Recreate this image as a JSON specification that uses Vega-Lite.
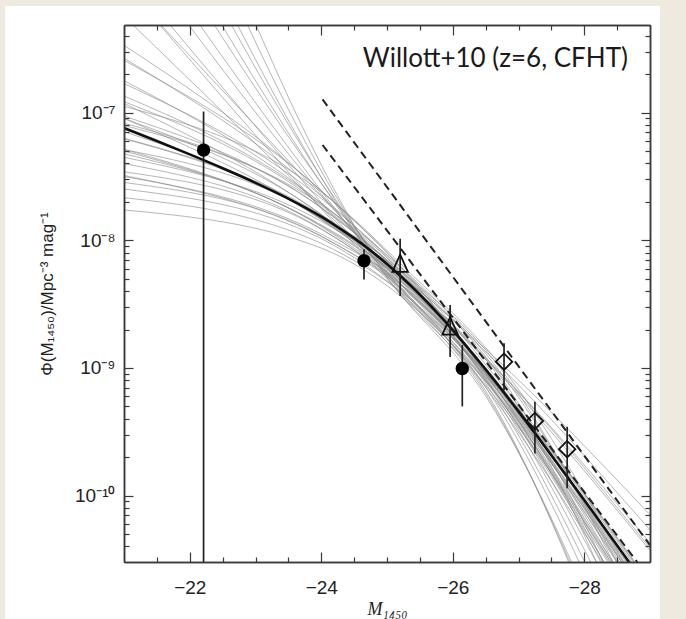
{
  "$schema": "https://vega.github.io/schema/vega-lite/v6.json",
  "width": 526,
  "height": 537,
  "autosize": {"type": "none"},
  "padding": {"left": 124, "top": 25, "right": 36, "bottom": 57},
  "background": "#EEEAE0",
  "config": {
    "view": {"stroke": null},
    "axis": {"domainColor": "#3a3a3a", "domainWidth": 1.5, "tickColor": "#3a3a3a", "tickWidth": 1.2, "grid": false, "labelOverlap": false, "labelFlush": false}
  },
  "datasets": {
    "gray": [
      {"id":"A1","M":-21,"p":1.73e-8},{"id":"A1","M":-24,"p":8.69e-9},{"id":"A1","M":-25.4,"p":3.02e-9},{"id":"A1","M":-26.6,"p":6.82e-10},{"id":"A1","M":-29,"p":1.43e-11},
      {"id":"A2","M":-21,"p":2.16e-8},{"id":"A2","M":-24,"p":9.44e-9},{"id":"A2","M":-25.4,"p":3.31e-9},{"id":"A2","M":-26.6,"p":8.0e-10},{"id":"A2","M":-29,"p":2.08e-11},
      {"id":"A3","M":-21,"p":2.52e-8},{"id":"A3","M":-24,"p":1.03e-8},{"id":"A3","M":-25.4,"p":3.16e-9},{"id":"A3","M":-26.6,"p":6.31e-10},{"id":"A3","M":-29,"p":1.0e-11},
      {"id":"A4","M":-21,"p":2.84e-8},{"id":"A4","M":-24,"p":1.08e-8},{"id":"A4","M":-25.4,"p":3.55e-9},{"id":"A4","M":-26.6,"p":8.11e-10},{"id":"A4","M":-29,"p":1.89e-11},
      {"id":"A5","M":-21,"p":3.44e-8},{"id":"A5","M":-24,"p":1.22e-8},{"id":"A5","M":-25.4,"p":3.39e-9},{"id":"A5","M":-26.6,"p":6.03e-10},{"id":"A5","M":-29,"p":7.24e-12},
      {"id":"A6","M":-21,"p":3.22e-8},{"id":"A6","M":-24,"p":1.07e-8},{"id":"A6","M":-25.4,"p":3.80e-9},{"id":"A6","M":-26.6,"p":1.05e-9},{"id":"A6","M":-29,"p":4.25e-11},
      {"id":"A7","M":-21,"p":3.99e-8},{"id":"A7","M":-24,"p":1.23e-8},{"id":"A7","M":-25.4,"p":3.63e-9},{"id":"A7","M":-26.6,"p":7.48e-10},{"id":"A7","M":-29,"p":1.40e-11},
      {"id":"A8","M":-21,"p":5.14e-8},{"id":"A8","M":-24,"p":1.48e-8},{"id":"A8","M":-25.4,"p":3.98e-9},{"id":"A8","M":-26.6,"p":7.21e-10},{"id":"A8","M":-29,"p":9.68e-12},
      {"id":"A9","M":-21,"p":4.76e-8},{"id":"A9","M":-24,"p":1.28e-8},{"id":"A9","M":-25.4,"p":3.72e-9},{"id":"A9","M":-26.6,"p":7.87e-10},{"id":"A9","M":-29,"p":1.64e-11},
      {"id":"A10","M":-21,"p":5.16e-8},{"id":"A10","M":-24,"p":1.30e-8},{"id":"A10","M":-25.4,"p":4.17e-9},{"id":"A10","M":-26.6,"p":1.07e-9},{"id":"A10","M":-29,"p":3.89e-11},
      {"id":"A11","M":-21,"p":6.24e-8},{"id":"A11","M":-24,"p":1.46e-8},{"id":"A11","M":-25.4,"p":3.89e-9},{"id":"A11","M":-26.6,"p":7.48e-10},{"id":"A11","M":-29,"p":1.25e-11},
      {"id":"A12","M":-21,"p":8.26e-8},{"id":"A12","M":-24,"p":1.81e-8},{"id":"A12","M":-25.4,"p":4.27e-9},{"id":"A12","M":-26.6,"p":6.92e-10},{"id":"A12","M":-29,"p":7.45e-12},
      {"id":"A13","M":-21,"p":7.10e-8},{"id":"A13","M":-24,"p":1.45e-8},{"id":"A13","M":-25.4,"p":3.98e-9},{"id":"A13","M":-26.6,"p":8.49e-10},{"id":"A13","M":-29,"p":1.98e-11},
      {"id":"A14","M":-21,"p":9.40e-8},{"id":"A14","M":-24,"p":1.79e-8},{"id":"A14","M":-25.4,"p":4.37e-9},{"id":"A14","M":-26.6,"p":7.87e-10},{"id":"A14","M":-29,"p":1.18e-11},
      {"id":"A15","M":-21,"p":9.02e-8},{"id":"A15","M":-24,"p":1.60e-8},{"id":"A15","M":-25.4,"p":4.07e-9},{"id":"A15","M":-26.6,"p":8.07e-10},{"id":"A15","M":-29,"p":1.60e-11},
      {"id":"A16","M":-21,"p":9.0e-8},{"id":"A16","M":-24,"p":1.49e-8},{"id":"A16","M":-25.4,"p":4.47e-9},{"id":"A16","M":-26.6,"p":1.19e-9},{"id":"A16","M":-29,"p":5.38e-11},
      {"id":"A17","M":-21,"p":1.22e-7},{"id":"A17","M":-24,"p":1.88e-8},{"id":"A17","M":-25.4,"p":4.17e-9},{"id":"A17","M":-26.6,"p":6.92e-10},{"id":"A17","M":-29,"p":8.79e-12},
      {"id":"A18","M":-21,"p":1.35e-7},{"id":"A18","M":-24,"p":1.95e-8},{"id":"A18","M":-25.4,"p":4.57e-9},{"id":"A18","M":-26.6,"p":8.49e-10},{"id":"A18","M":-29,"p":1.50e-11},
      {"id":"A19","M":-21,"p":1.18e-7},{"id":"A19","M":-24,"p":1.59e-8},{"id":"A19","M":-25.4,"p":4.27e-9},{"id":"A19","M":-26.6,"p":1.03e-9},{"id":"A19","M":-29,"p":3.72e-11},
      {"id":"A20","M":-21,"p":1.69e-7},{"id":"A20","M":-24,"p":2.13e-8},{"id":"A20","M":-25.4,"p":4.68e-9},{"id":"A20","M":-26.6,"p":8.22e-10},{"id":"A20","M":-29,"p":1.30e-11},
      {"id":"A21","M":-21,"p":1.78e-7},{"id":"A21","M":-24,"p":1.95e-8},{"id":"A21","M":-25.4,"p":4.37e-9},{"id":"A21","M":-26.6,"p":8.39e-10},{"id":"A21","M":-29,"p":1.75e-11},
      {"id":"A22","M":-21,"p":2.57e-7},{"id":"A22","M":-24,"p":2.45e-8},{"id":"A22","M":-25.4,"p":4.79e-9},{"id":"A22","M":-26.6,"p":7.71e-10},{"id":"A22","M":-29,"p":1.03e-11},
      {"id":"A23","M":-21,"p":2.67e-7},{"id":"A23","M":-24,"p":2.22e-8},{"id":"A23","M":-25.4,"p":4.47e-9},{"id":"A23","M":-26.6,"p":7.98e-10},{"id":"A23","M":-29,"p":1.49e-11},
      {"id":"A24","M":-21,"p":3.37e-7},{"id":"A24","M":-24,"p":2.44e-8},{"id":"A24","M":-25.4,"p":4.90e-9},{"id":"A24","M":-26.6,"p":9.18e-10},{"id":"A24","M":-29,"p":2.03e-11},
      {"id":"C1","M":-21,"p":7.94e-8},{"id":"C1","M":-24,"p":1.91e-8},{"id":"C1","M":-25.4,"p":5.01e-9},{"id":"C1","M":-26.6,"p":1.12e-9},{"id":"C1","M":-29,"p":1.0e-11},
      {"id":"C2","M":-21,"p":4.47e-8},{"id":"C2","M":-24,"p":1.41e-8},{"id":"C2","M":-25.4,"p":4.68e-9},{"id":"C2","M":-26.6,"p":1.05e-9},{"id":"C2","M":-29,"p":5.01e-12},
      {"id":"C3","M":-21,"p":1.12e-7},{"id":"C3","M":-24,"p":2.40e-8},{"id":"C3","M":-25.4,"p":5.25e-9},{"id":"C3","M":-26.6,"p":1.26e-9},{"id":"C3","M":-29,"p":1.26e-11},
      {"id":"C4","M":-21,"p":3.16e-8},{"id":"C4","M":-24,"p":1.12e-8},{"id":"C4","M":-25.4,"p":3.98e-9},{"id":"C4","M":-26.6,"p":1.0e-9},{"id":"C4","M":-29,"p":3.16e-12},
      {"id":"C5","M":-21,"p":6.31e-8},{"id":"C5","M":-24,"p":1.58e-8},{"id":"C5","M":-25.4,"p":4.79e-9},{"id":"C5","M":-26.6,"p":1.20e-9},{"id":"C5","M":-29,"p":7.94e-12},
      {"id":"D1","M":-21,"p":5.01e-8},{"id":"D1","M":-24,"p":1.32e-8},{"id":"D1","M":-25.4,"p":4.37e-9},{"id":"D1","M":-26.6,"p":1.26e-9},{"id":"D1","M":-29,"p":7.08e-11},
      {"id":"B1","M":-21,"p":5.69e-7},{"id":"B1","M":-24.95,"p":6.03e-9},{"id":"B1","M":-26.5,"p":1.0e-9},{"id":"B1","M":-29,"p":1.33e-11},
      {"id":"B2","M":-21,"p":9.84e-7},{"id":"B2","M":-24.95,"p":6.61e-9},{"id":"B2","M":-26.5,"p":8.91e-10},{"id":"B2","M":-29,"p":6.68e-12},
      {"id":"B3","M":-21,"p":1.32e-6},{"id":"B3","M":-24.95,"p":5.62e-9},{"id":"B3","M":-26.5,"p":7.94e-10},{"id":"B3","M":-29,"p":3.35e-12},
      {"id":"B4","M":-21,"p":2.33e-6},{"id":"B4","M":-24.95,"p":6.31e-9},{"id":"B4","M":-26.5,"p":9.55e-10},{"id":"B4","M":-29,"p":9.55e-12},
      {"id":"B5","M":-21,"p":3.43e-6},{"id":"B5","M":-24.95,"p":5.89e-9},{"id":"B5","M":-26.5,"p":7.08e-10},{"id":"B5","M":-29,"p":1.68e-12},
      {"id":"B6","M":-21,"p":6.49e-6},{"id":"B6","M":-24.95,"p":6.46e-9},{"id":"B6","M":-26.5,"p":8.32e-10},{"id":"B6","M":-29,"p":4.68e-12},
      {"id":"B7","M":-21,"p":9.98e-6},{"id":"B7","M":-24.95,"p":5.75e-9},{"id":"B7","M":-26.5,"p":6.31e-10},{"id":"B7","M":-29,"p":8.41e-13},
      {"id":"B8","M":-21,"p":1.85e-5},{"id":"B8","M":-24.95,"p":6.17e-9},{"id":"B8","M":-26.5,"p":7.59e-10},{"id":"B8","M":-29,"p":2.40e-12},
      {"id":"B9","M":-21,"p":3.11e-5},{"id":"B9","M":-24.95,"p":5.50e-9},{"id":"B9","M":-26.5,"p":6.03e-10},{"id":"B9","M":-29,"p":1.07e-12},
      {"id":"B10","M":-21,"p":8.47e-5},{"id":"B10","M":-24.95,"p":6.03e-9},{"id":"B10","M":-26.5,"p":8.91e-10},{"id":"B10","M":-29,"p":5.62e-12},
      {"id":"B11","M":-21,"p":1.96e-4},{"id":"B11","M":-24.95,"p":5.62e-9},{"id":"B11","M":-26.5,"p":6.61e-10},{"id":"B11","M":-29,"p":6.61e-13},
      {"id":"B12","M":-21,"p":1.03e-6},{"id":"B12","M":-24.95,"p":5.25e-9},{"id":"B12","M":-26.5,"p":7.94e-10},{"id":"B12","M":-29,"p":8.91e-12}
    ],
    "fit": [
      {"M":-21,"p":7.58e-8},{"M":-21.5,"p":5.99e-8},{"M":-22,"p":4.71e-8},{"M":-22.5,"p":3.67e-8},
      {"M":-23,"p":2.82e-8},{"M":-23.5,"p":2.12e-8},{"M":-24,"p":1.53e-8},{"M":-24.25,"p":1.27e-8},
      {"M":-24.5,"p":1.04e-8},{"M":-24.75,"p":8.32e-9},{"M":-25,"p":6.53e-9},{"M":-25.25,"p":5.00e-9},
      {"M":-25.5,"p":3.75e-9},{"M":-25.75,"p":2.75e-9},{"M":-26,"p":1.98e-9},{"M":-26.5,"p":9.74e-10},
      {"M":-27,"p":4.57e-10},{"M":-27.5,"p":2.07e-10},{"M":-28,"p":9.24e-11},{"M":-28.5,"p":4.07e-11},
      {"M":-29,"p":1.78e-11}
    ],
    "dash": [
      {"id":"upper","M":-24.02,"p":1.27e-7},{"id":"upper","M":-29,"p":4.09e-11},
      {"id":"lower","M":-24.02,"p":5.58e-8},{"id":"lower","M":-29,"p":2.22e-11}
    ],
    "pts": [
      {"sym":"circle","M":-22.21,"p":5.09e-8,"lo":1e-12,"hi":1.02e-7},
      {"sym":"circle","M":-24.65,"p":6.92e-9,"lo":4.94e-9,"hi":8.5e-9},
      {"sym":"circle","M":-26.145,"p":9.9e-10,"lo":5.0e-10,"hi":1.51e-9},
      {"sym":"tri","M":-25.2,"p":6.5e-9,"lo":3.66e-9,"hi":1.03e-8},
      {"sym":"tri","M":-25.96,"p":2.1e-9,"lo":1.22e-9,"hi":3.11e-9},
      {"sym":"dia","M":-26.78,"p":1.12e-9,"lo":6.7e-10,"hi":1.56e-9},
      {"sym":"dia","M":-27.25,"p":3.85e-10,"lo":2.14e-10,"hi":5.43e-10},
      {"sym":"dia","M":-27.74,"p":2.31e-10,"lo":1.14e-10,"hi":3.46e-10}
    ]
  },
  "layer": [
    {
      "data": {"values": [{}]},
      "mark": {"type": "rect", "fill": "white", "clip": false},
      "encoding": {
        "x": {"datum": -19.19, "type": "quantitative", "scale": {"domain": [-21, -29], "nice": false, "zero": false}, "axis": null},
        "x2": {"datum": -29.152},
        "y": {"datum": 6.86e-7, "type": "quantitative", "scale": {"type": "log", "domain": [3.02e-11, 4.86e-7], "nice": false}, "axis": null},
        "y2": {"datum": 1e-13}
      }
    },
    {
      "data": {"name": "gray"},
      "mark": {"type": "line", "clip": true, "color": "#8a8a8a", "strokeWidth": 0.9, "opacity": 0.7, "interpolate": "monotone"},
      "encoding": {
        "x": {"field": "M", "type": "quantitative", "scale": {"domain": [-21, -29], "nice": false, "zero": false},
          "axis": {"orient": "bottom", "zindex": 2, "values": [-22, -24, -26, -28],
            "labelExpr": "'−' + abs(datum.value)",
            "tickSize": -10,
            "labelPadding": 26, "labelFont": "Liberation Sans", "labelFontSize": 19, "labelColor": "#222222",
            "title": "M₁₄₅₀", "titleFont": "Liberation Serif", "titleFontStyle": "italic", "titleFontWeight": "normal", "titleFontSize": 18, "titleColor": "#222222", "titlePadding": 3}},
        "y": {"field": "p", "type": "quantitative", "scale": {"type": "log", "domain": [3.02e-11, 4.86e-7], "nice": false},
          "axis": {"orient": "left", "zindex": 2, "values": [1e-10, 1e-9, 1e-8, 1e-7],
            "labelExpr": "datum.value < 5e-10 ? '10⁻¹⁰' : datum.value < 5e-9 ? '10⁻⁹' : datum.value < 5e-8 ? '10⁻⁸' : '10⁻⁷'",
            "tickSize": -9,
            "labelPadding": 18, "labelFont": "Liberation Sans", "labelFontSize": 19, "labelColor": "#222222",
            "title": "Φ(M₁₄₅₀)/Mpc⁻³  mag⁻¹", "titleFont": "Liberation Sans", "titleFontWeight": "normal", "titleFontSize": 17, "titleColor": "#222222", "titlePadding": 18}},
        "detail": {"field": "id"}
      }
    },
    {
      "data": {"name": "fit"},
      "mark": {"type": "line", "clip": true, "color": "#111111", "strokeWidth": 2.6, "interpolate": "monotone"},
      "encoding": {
        "x": {"field": "M", "type": "quantitative", "scale": {"domain": [-21, -29], "nice": false, "zero": false},
          "axis": {"orient": "top", "zindex": 2, "values": [-22, -24, -26, -28], "labels": false, "title": null, "tickSize": -10}},
        "y": {"field": "p", "type": "quantitative", "scale": {"type": "log", "domain": [3.02e-11, 4.86e-7], "nice": false},
          "axis": {"orient": "right", "zindex": 2, "values": [1e-10, 1e-9, 1e-8, 1e-7], "labels": false, "title": null, "tickSize": -9}}
      }
    },
    {
      "data": {"name": "dash"},
      "mark": {"type": "line", "clip": true, "color": "#222222", "strokeWidth": 2, "strokeDash": [8, 5]},
      "encoding": {
        "x": {"field": "M", "type": "quantitative", "scale": {"domain": [-21, -29], "nice": false, "zero": false},
          "axis": {"orient": "bottom", "zindex": 2, "values": [-21.5,-22.5,-23,-23.5,-24.5,-25,-25.5,-26.5,-27,-27.5,-28.5], "labels": false, "title": null, "tickSize": -5}},
        "y": {"field": "p", "type": "quantitative", "scale": {"type": "log", "domain": [3.02e-11, 4.86e-7], "nice": false},
          "axis": {"orient": "left", "zindex": 2, "values": [4e-11,5e-11,6e-11,7e-11,8e-11,9e-11,2e-10,3e-10,4e-10,5e-10,6e-10,7e-10,8e-10,9e-10,2e-9,3e-9,4e-9,5e-9,6e-9,7e-9,8e-9,9e-9,2e-8,3e-8,4e-8,5e-8,6e-8,7e-8,8e-8,9e-8,2e-7,3e-7,4e-7], "labels": false, "title": null, "tickSize": -5}},
        "detail": {"field": "id"}
      }
    },
    {
      "data": {"name": "pts"},
      "mark": {"type": "rule", "clip": true, "color": "#222222", "strokeWidth": 1.7},
      "encoding": {
        "x": {"field": "M", "type": "quantitative", "scale": {"domain": [-21, -29], "nice": false, "zero": false},
          "axis": {"orient": "top", "zindex": 2, "values": [-21.5,-22.5,-23,-23.5,-24.5,-25,-25.5,-26.5,-27,-27.5,-28.5], "labels": false, "title": null, "tickSize": -5}},
        "y": {"field": "lo", "type": "quantitative", "scale": {"type": "log", "domain": [3.02e-11, 4.86e-7], "nice": false},
          "axis": {"orient": "right", "zindex": 2, "values": [4e-11,5e-11,6e-11,7e-11,8e-11,9e-11,2e-10,3e-10,4e-10,5e-10,6e-10,7e-10,8e-10,9e-10,2e-9,3e-9,4e-9,5e-9,6e-9,7e-9,8e-9,9e-9,2e-8,3e-8,4e-8,5e-8,6e-8,7e-8,8e-8,9e-8,2e-7,3e-7,4e-7], "labels": false, "title": null, "tickSize": -5}},
        "y2": {"field": "hi"}
      }
    },
    {
      "data": {"name": "pts"},
      "transform": [{"filter": "datum.sym == 'circle'"}],
      "mark": {"type": "point", "shape": "circle", "filled": true, "color": "#000000", "size": 180, "opacity": 1},
      "encoding": {
        "x": {"field": "M", "type": "quantitative", "scale": {"domain": [-21, -29], "nice": false, "zero": false}, "axis": null},
        "y": {"field": "p", "type": "quantitative", "scale": {"type": "log", "domain": [3.02e-11, 4.86e-7], "nice": false}, "axis": null}
      }
    },
    {
      "data": {"name": "pts"},
      "transform": [{"filter": "datum.sym == 'tri'"}],
      "mark": {"type": "point", "shape": "M0,-1.25L-1,1L1,1Z", "filled": false, "color": "#111111", "strokeWidth": 1.8, "size": 240, "opacity": 1},
      "encoding": {
        "x": {"field": "M", "type": "quantitative", "scale": {"domain": [-21, -29], "nice": false, "zero": false}, "axis": null},
        "y": {"field": "p", "type": "quantitative", "scale": {"type": "log", "domain": [3.02e-11, 4.86e-7], "nice": false}, "axis": null}
      }
    },
    {
      "data": {"name": "pts"},
      "transform": [{"filter": "datum.sym == 'dia'"}],
      "mark": {"type": "point", "shape": "diamond", "filled": false, "color": "#111111", "strokeWidth": 1.8, "size": 270, "opacity": 1},
      "encoding": {
        "x": {"field": "M", "type": "quantitative", "scale": {"domain": [-21, -29], "nice": false, "zero": false}, "axis": null},
        "y": {"field": "p", "type": "quantitative", "scale": {"type": "log", "domain": [3.02e-11, 4.86e-7], "nice": false}, "axis": null}
      }
    },
    {
      "data": {"values": [{}]},
      "mark": {"type": "text", "align": "right", "baseline": "alphabetic", "font": "Lato", "fontSize": 26, "color": "#1a1a1a"},
      "encoding": {
        "x": {"datum": -28.665, "type": "quantitative", "scale": {"domain": [-21, -29], "nice": false, "zero": false}, "axis": null},
        "y": {"datum": 2.29e-7, "type": "quantitative", "scale": {"type": "log", "domain": [3.02e-11, 4.86e-7], "nice": false}, "axis": null},
        "text": {"value": "Willott+10 (z=6, CFHT)"}
      }
    }
  ],
  "resolve": {"scale": {"x": "shared", "y": "shared"}, "axis": {"x": "independent", "y": "independent"}}
}
